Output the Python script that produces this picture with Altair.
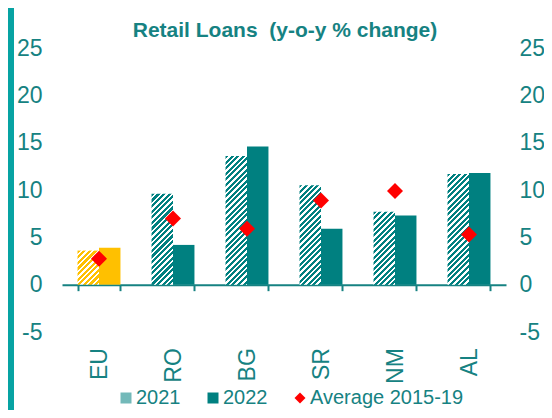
import math
import altair as alt
import pandas as pd

# ---------------- data ----------------
countries = ["EU", "RO", "BG", "SR", "NM", "AL"]
v2021 = [3.6, 9.6, 13.6, 10.5, 7.7, 11.7]
v2022 = [3.9, 4.2, 14.6, 5.9, 7.3, 11.8]
avg_2015_19 = [2.75, 7.0, 5.9, 8.9, 9.9, 5.3]
series_names = ["2021", "2022", "Average 2015-19"]
y_ticks = [-5, 0, 5, 10, 15, 20, 25]
title_text = "Retail Loans\u00a0 (y-o-y % change)"

# ---------------- style ----------------
W, H = 444, 284
Y_MIN, Y_MAX = -5, 25
TEAL = "#008080"
TEXT = "#168282"
YELLOW = "#FFC000"
RED = "#FF0000"
FRAME = "#07A3A3"
FONT = "Liberation Sans"
P_INNER, P_OUTER = 0.42, 0.21
STRIPE = 5.6  # horizontal stripe period, px
PAD = {"left": 54, "top": 40, "right": 38, "bottom": 78}

step = W / len(countries)
bar_w = step * (1 - P_INNER) / 2
px_per_unit = H / (Y_MAX - Y_MIN)

bars = pd.DataFrame(
    {
        "country": countries * 2,
        "series": ["2021"] * len(countries) + ["2022"] * len(countries),
        "value": v2021 + v2022,
    }
)
avg = pd.DataFrame(
    {"country": countries, "series": "Average 2015-19", "value": avg_2015_19}
)

x_scale = alt.Scale(domain=countries, paddingInner=P_INNER, paddingOuter=P_OUTER)
xo_scale = alt.Scale(domain=["2021", "2022"], paddingInner=0, paddingOuter=0)
y_scale = alt.Scale(domain=[Y_MIN, Y_MAX], nice=False, zero=False)


def hatch(color, value):
    """Diagonal '/' stripes as a bbox linear gradient for one bar."""
    w = bar_w
    h = max(abs(value) * px_per_unit, 1.0)
    k = (1 / h + 1 / w) / (1 / h ** 2 + 1 / w ** 2)
    n = (w + h) / STRIPE
    stops = []
    i = 0
    while True:
        a, b, c = i / n, (i + 0.55) / n, (i + 1) / n
        stops += [
            alt.GradientStop(color=color, offset=min(a, 1)),
            alt.GradientStop(color=color, offset=min(b, 1)),
            alt.GradientStop(color="#FFFFFF", offset=min(b, 1)),
            alt.GradientStop(color="#FFFFFF", offset=min(c, 1)),
        ]
        if c >= 1:
            break
        i += 1
    return alt.LinearGradient(
        gradient="linear", stops=stops, x1=0, y1=0, x2=k / h, y2=k / w
    )


no_axis_x = alt.X("country:N", sort=countries, scale=x_scale, axis=None)
no_axis_y = alt.Y("value:Q", scale=y_scale, axis=None)
xoff = alt.XOffset("series:N", scale=xo_scale)


def y_axis(orient, pad):
    return alt.Axis(
        title=None,
        orient=orient,
        values=y_ticks,
        labelExpr="datum.value + ''",
        domain=False,
        ticks=False,
        grid=False,
        labelPadding=pad,
        labelFontSize=23,
        labelColor=TEXT,
        labelFont=FONT,
    )


# hatched 2021 bars, one layer per country
hatched_layers = []
for c, v in zip(countries, v2021):
    col = YELLOW if c == "EU" else TEAL
    layer = (
        alt.Chart(bars)
        .transform_filter(f"datum.country == '{c}' && datum.series == '2021'")
        .mark_bar(fill=hatch(col, v), strokeWidth=0)
        .encode(x=no_axis_x, xOffset=xoff, y=no_axis_y)
    )
    hatched_layers.append(layer)

# solid 2022 bars (carry the x axis and the left y axis)
solid = (
    alt.Chart(bars)
    .transform_filter("datum.series == '2022'")
    .mark_bar(strokeWidth=0)
    .encode(
        x=alt.X(
            "country:N",
            sort=countries,
            scale=x_scale,
            axis=alt.Axis(
                title=None,
                labelAngle=270,
                labelAlign="right",
                labelBaseline="middle",
                labelPadding=57,
                labelFontSize=23,
                labelColor=TEXT,
                labelFont=FONT,
                tickBand="extent",
                tickSize=6,
                tickWidth=2,
                tickColor=TEXT,
                domainColor=TEXT,
                domainWidth=2,
                grid=False,
                offset=-(0 - Y_MIN) * px_per_unit,
            ),
        ),
        xOffset=xoff,
        y=alt.Y("value:Q", scale=y_scale, axis=y_axis("left", 20)),
        color=alt.condition(
            "datum.country == 'EU'", alt.value(YELLOW), alt.value(TEAL)
        ),
    )
)

legend = alt.Legend(
    title=None,
    orient="none",
    legendX=54,
    legendY=340,
    direction="horizontal",
    symbolSize=121,
    symbolStrokeWidth=0,
    labelFontSize=20,
    labelColor=TEXT,
    labelFont=FONT,
    labelOffset=0,
    columnPadding=22,
    padding=0,
)

diamonds = (
    alt.Chart(avg)
    .mark_point(filled=True, size=256, opacity=1)
    .encode(
        x=no_axis_x,
        y=alt.Y("value:Q", scale=y_scale, axis=y_axis("right", 13)),
        color=alt.Color(
            "series:N",
            scale=alt.Scale(domain=series_names, range=["#73B9B9", TEAL, RED]),
            legend=legend,
        ),
        shape=alt.Shape(
            "series:N",
            scale=alt.Scale(domain=series_names, range=["square", "square", "diamond"]),
            legend=legend,
        ),
    )
)

one = pd.DataFrame({"k": [0]})
frame = (
    alt.Chart(one)
    .mark_rect(color=FRAME)
    .encode(
        x=alt.value(-PAD["left"]),
        x2=alt.value(-PAD["left"] + 6),
        y=alt.value(-PAD["top"]),
        y2=alt.value(H + PAD["bottom"]),
    )
)
title = (
    alt.Chart(one)
    .mark_text(
        text=title_text,
        font=FONT,
        fontSize=21,
        fontWeight="bold",
        color=TEXT,
        align="center",
        baseline="alphabetic",
    )
    .encode(x=alt.value(W / 2 + 1), y=alt.value(-11))
)

chart = (
    alt.layer(frame, *hatched_layers, solid, diamonds, title)
    .resolve_scale(y="shared", x="shared")
    .resolve_axis(x="independent", y="independent")
    .properties(
        width=W,
        height=H,
        padding=PAD,
        autosize=alt.AutoSizeParams(type="none"),
        background="white",
    )
    .configure(font=FONT)
    .configure_view(strokeWidth=0, stroke=None)
)

chart.save("out.html", embed_options={"renderer": "svg", "actions": False})
